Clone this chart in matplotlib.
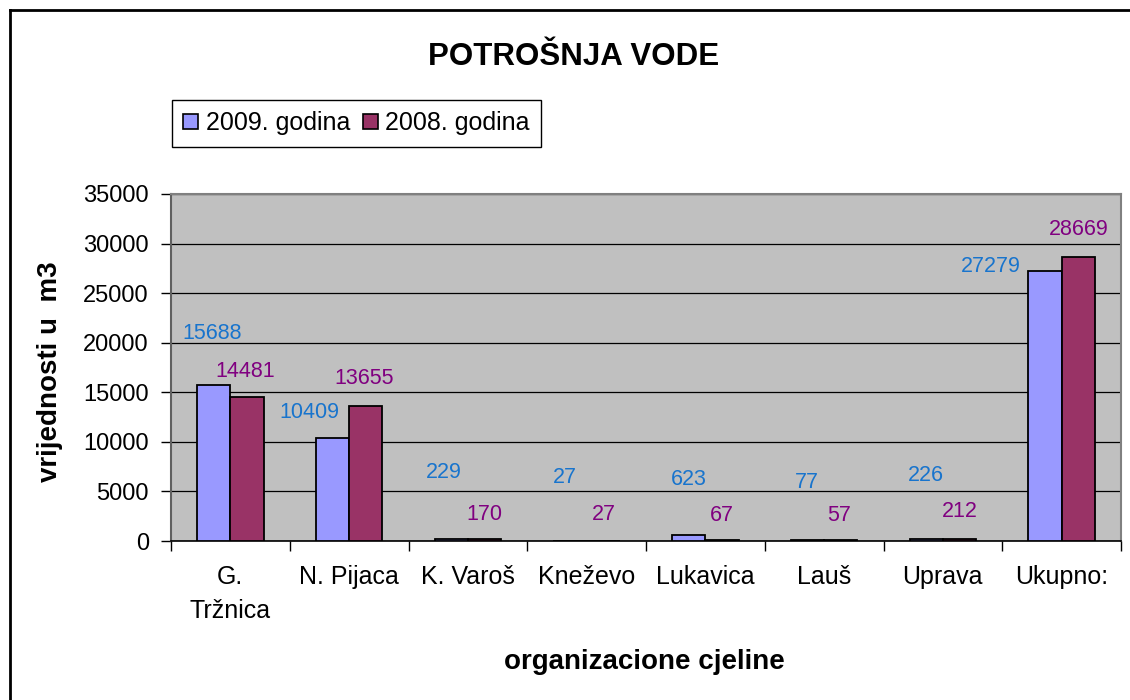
import matplotlib
matplotlib.use("Agg")
import matplotlib.pyplot as plt
from matplotlib.patches import Patch
from matplotlib.lines import Line2D
import numpy as np

plt.rcParams['font.family'] = ['Liberation Sans', 'DejaVu Sans']

categories = ["G.\nTržnica", "N. Pijaca", "K. Varoš", "Kneževo", "Lukavica", "Lauš", "Uprava", "Ukupno:"]
values_2009 = [15688, 10409, 229, 27, 623, 77, 226, 27279]
values_2008 = [14481, 13655, 170, 27, 67, 57, 212, 28669]
series_names = ["2009. godina", "2008. godina"]
y_ticks = [0, 5000, 10000, 15000, 20000, 25000, 30000, 35000]

# label offsets (pixels) relative to the top-centre of each bar
off_2009 = [(-2, 52), (-23, 25), (-7, 66), (-5, 63), (0, 55), (-1, 58), (0, 63), (-54, 4)]
off_2008 = [(-2, 26), (-2, 27), (0, 25), (1, 26), (0, 25), (-2, 25), (0, 27), (0, 27)]

c2009 = "#9999FF"
c2008 = "#993366"
lab2009 = "#1874CD"
lab2008 = "#800080"

fig = plt.figure(figsize=(11.3, 7.0), dpi=100)
ax = fig.add_axes([171/1130, 1-541/700, (1121-171)/1130, 347/700])
ax.set_facecolor("#C0C0C0")

x = np.arange(len(categories))
w = 0.28
ax.bar(x - w/2, values_2009, w, color=c2009, edgecolor="black", linewidth=1.3, zorder=3)
ax.bar(x + w/2, values_2008, w, color=c2008, edgecolor="black", linewidth=1.3, zorder=3)

for xi, v, (dx, dy) in zip(x - w/2, values_2009, off_2009):
    ax.annotate(str(v), (xi, v), xytext=(dx, dy), textcoords="offset pixels",
                ha="center", va="center", color=lab2009, fontsize=15.5, zorder=4)
for xi, v, (dx, dy) in zip(x + w/2, values_2008, off_2008):
    ax.annotate(str(v), (xi, v), xytext=(dx, dy), textcoords="offset pixels",
                ha="center", va="center", color=lab2008, fontsize=15.5, zorder=4)

ax.set_xlim(-0.5, len(categories) - 0.5)
ax.set_ylim(0, 35000)
ax.set_yticks(y_ticks)
ax.set_yticklabels([str(t) for t in y_ticks])
ax.yaxis.grid(True, color="black", linewidth=0.9, zorder=1)
ax.set_axisbelow(True)

ax.set_xticks(np.arange(len(categories) + 1) - 0.5)
ax.set_xticklabels([])
ax.set_xticks(x, minor=True)
ax.set_xticklabels(categories, minor=True, fontsize=18, linespacing=1.55)
ax.tick_params(axis="x", which="major", direction="out", length=7, width=1, color="black")
ax.tick_params(axis="x", which="minor", length=0, pad=17)
ax.tick_params(axis="y", direction="out", length=7, width=1, color="black", labelsize=17, pad=9)

for s in ["top", "right"]:
    ax.spines[s].set_color("#808080")
    ax.spines[s].set_linewidth(1.5)
ax.spines["left"].set_color("#606060")
ax.spines["left"].set_linewidth(1.5)
ax.spines["bottom"].set_color("black")
ax.spines["bottom"].set_linewidth(1.2)

fig.text(50/1130, 1-372/700, "vrijednosti u  m3", fontsize=20, fontweight="bold",
         rotation=90, ha="center", va="center")
fig.text(644/1130, 1-662/700, "organizacione cjeline", fontsize=20, fontweight="bold",
         ha="center", va="center")
fig.text(574/1130, 1-57/700, "POTROŠNJA VODE", fontsize=22.5, fontweight="bold",
         ha="center", va="center")

handles = [Patch(facecolor=c2009, edgecolor="black", linewidth=1.2),
           Patch(facecolor=c2008, edgecolor="black", linewidth=1.2)]
leg = fig.legend(handles, series_names, loc="upper left", bbox_to_anchor=(172/1130, 1-100/700),
                 ncol=2, fontsize=18, frameon=True, fancybox=False, edgecolor="black",
                 framealpha=1, handlelength=0.6, handleheight=0.6, handletextpad=0.3,
                 columnspacing=0.5, borderaxespad=0, borderpad=0.45)
leg.get_frame().set_linewidth(1.0)

# outer chart frame (left and top edges visible)
fig.add_artist(Line2D([10/1130, 10/1130], [0, 1-10/700], transform=fig.transFigure,
                      color="black", linewidth=2))
fig.add_artist(Line2D([10/1130, 1], [1-10/700, 1-10/700], transform=fig.transFigure,
                      color="black", linewidth=2))

fig.savefig("out.png", dpi=100, facecolor="white")
